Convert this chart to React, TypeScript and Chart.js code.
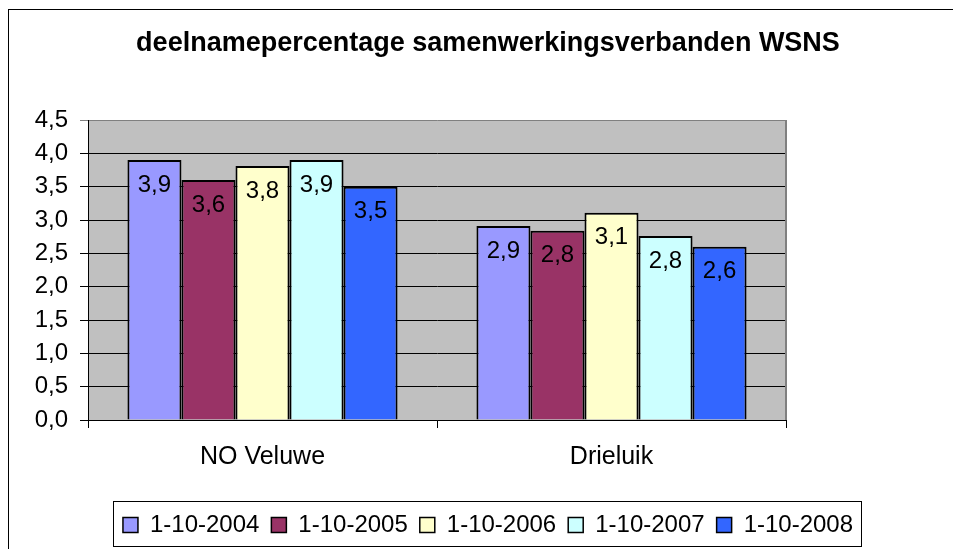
import React, { useEffect, useRef } from 'react';
import { Chart, registerables } from 'chart.js';

Chart.register(...registerables);

const titleText = 'deelnamepercentage samenwerkingsverbanden WSNS';
const categories = ['NO Veluwe', 'Drieluik'];
const seriesLabels = ['1-10-2004', '1-10-2005', '1-10-2006', '1-10-2007', '1-10-2008'];
const values2004 = [3.9, 2.91];
const values2005 = [3.6, 2.84];
const values2006 = [3.81, 3.11];
const values2007 = [3.9, 2.76];
const values2008 = [3.5, 2.6];
const seriesValues = [values2004, values2005, values2006, values2007, values2008];
const seriesColors = ['#9999FF', '#993366', '#FFFFCC', '#CCFFFF', '#3366FF'];
const yMin = 0;
const yMax = 4.5;
const yStep = 0.5;

const FONT = '"Liberation Sans", Arial, sans-serif';
const fmt = (v: number) => v.toFixed(1).replace('.', ',');

const CANVAS_W = 968;
const CANVAS_H = 549;

export default function App() {
  const ref = useRef<HTMLCanvasElement | null>(null);

  useEffect(() => {
    if (!ref.current) return;

    const decorPlugin = {
      id: 'decor',
      beforeDraw(chart: any) {
        const { ctx, chartArea } = chart;
        ctx.save();
        ctx.fillStyle = '#ffffff';
        ctx.fillRect(0, 0, chart.width, chart.height);
        ctx.strokeStyle = '#000000';
        ctx.lineWidth = 1;
        ctx.strokeRect(8.5, 9.5, chart.width - 17, chart.height + 20);
        ctx.fillStyle = '#C0C0C0';
        ctx.fillRect(chartArea.left, chartArea.top, chartArea.right - chartArea.left, chartArea.bottom - chartArea.top);
        ctx.restore();
      },
      afterDatasetsDraw(chart: any) {
        const { ctx, chartArea } = chart;
        ctx.save();
        ctx.strokeStyle = '#808080';
        ctx.lineWidth = 2;
        ctx.beginPath();
        ctx.moveTo(chartArea.right, chartArea.top);
        ctx.lineTo(chartArea.right, chartArea.bottom);
        ctx.stroke();
        ctx.fillStyle = '#000000';
        ctx.font = `24px ${FONT}`;
        ctx.textAlign = 'center';
        ctx.textBaseline = 'middle';
        chart.data.datasets.forEach((ds: any, i: number) => {
          const meta = chart.getDatasetMeta(i);
          meta.data.forEach((el: any, j: number) => {
            ctx.fillText(fmt(ds.data[j]), el.x, el.y + 25);
          });
        });
        ctx.restore();
      },
      afterDraw(chart: any) {
        const legend = chart.legend;
        if (!legend || !legend.legendHitBoxes || !legend.legendHitBoxes.length) return;
        const hb = legend.legendHitBoxes;
        const first = hb[0];
        const last = hb[hb.length - 1];
        const { ctx } = chart;
        ctx.save();
        ctx.strokeStyle = '#000000';
        ctx.lineWidth = 1;
        const left = Math.round(first.left - 10) + 0.5;
        const right = Math.round(last.left + last.width + 8) + 0.5;
        const top = Math.round(legend.top) + 0.5;
        const bottom = Math.round(legend.bottom) - 0.5;
        ctx.strokeRect(left, top, right - left, bottom - top);
        ctx.restore();
      },
    };

    const chart = new Chart(ref.current, {
      type: 'bar',
      data: {
        labels: categories,
        datasets: seriesLabels.map((label, i) => ({
          label,
          data: seriesValues[i],
          backgroundColor: seriesColors[i],
          borderColor: '#000000',
          borderWidth: 2,
          categoryPercentage: 0.774,
          barPercentage: 1.0,
          yAxisID: 'y',
        })),
      },
      options: {
        responsive: false,
        animation: false,
        layout: { padding: { left: 8, right: 0, top: 0, bottom: 2 } },
        plugins: {
          title: {
            display: true,
            text: titleText,
            color: '#000000',
            font: { family: FONT, size: 27, weight: 'bold', lineHeight: 1.2 },
            padding: { top: 27, bottom: 60.6 },
          },
          legend: {
            display: true,
            position: 'bottom',
            labels: {
              color: '#000000',
              font: { family: FONT, size: 24 },
              boxWidth: 15,
              boxHeight: 15,
              padding: 12,
              generateLabels: (chart: any) => {
                const items = Chart.defaults.plugins.legend.labels.generateLabels(chart);
                return items.map((it: any) => ({ ...it, lineWidth: 1.5 }));
              },
            },
          },
          tooltip: { enabled: false },
        },
        scales: {
          x: {
            type: 'category',
            offset: true,
            grid: {
              display: true,
              offset: true,
              drawOnChartArea: false,
              drawTicks: true,
              tickLength: 8,
              color: '#000000',
            },
            border: { display: true, color: '#000000', width: 1 },
            ticks: {
              color: '#000000',
              font: { family: FONT, size: 25, lineHeight: 1.2 },
              padding: 14,
            },
            afterFit: (s: any) => {
              s.height = 81;
            },
          },
          y: {
            type: 'linear',
            position: 'left',
            min: yMin,
            max: yMax,
            ticks: {
              stepSize: yStep,
              color: '#000000',
              font: { family: FONT, size: 24 },
              padding: 12,
              callback: (v: any) => fmt(Number(v)),
            },
            grid: {
              display: true,
              drawTicks: true,
              tickLength: 8,
              color: (c: any) => (c.tick && Math.abs(c.tick.value - yMax) < 1e-9 ? '#808080' : '#000000'),
              lineWidth: 1,
            },
            border: { display: true, color: '#000000', width: 1 },
            afterFit: (s: any) => {
              s.width = 80;
            },
          },
          yRight: {
            type: 'linear',
            position: 'right',
            display: true,
            grid: { display: false },
            ticks: { display: false },
            border: { display: false },
            afterFit: (s: any) => {
              s.width = 182;
            },
          },
        },
      },
      plugins: [decorPlugin],
    } as any);

    return () => {
      chart.destroy();
    };
  }, []);

  return (
    <div
      style={{
        position: 'absolute',
        left: 0,
        top: 0,
        width: 953,
        height: 549,
        overflow: 'hidden',
        background: '#ffffff',
      }}
    >
      <canvas ref={ref} width={CANVAS_W} height={CANVAS_H} style={{ width: CANVAS_W, height: CANVAS_H, display: 'block' }} />
    </div>
  );
}
